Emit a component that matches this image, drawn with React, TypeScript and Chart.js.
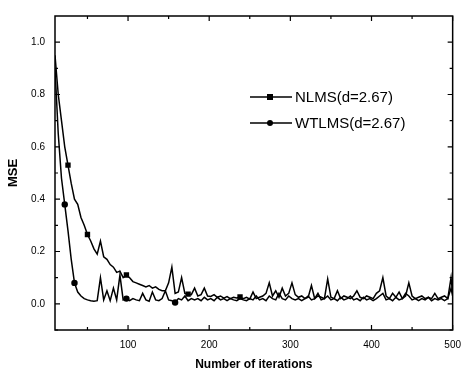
import React, { useEffect, useRef } from "react";
import { Chart, registerables } from "chart.js";

Chart.register(...registerables);

const iterations = [10,14,18,22,26,30,34,38,42,46,50,54,58,62,66,70,74,78,82,86,90,94,98,102,106,110,114,118,122,126,130,134,138,142,146,150,154,158,162,166,170,174,178,182,186,190,194,198,202,206,210,214,218,222,226,230,234,238,242,246,250,254,258,262,266,270,274,278,282,286,290,294,298,302,306,310,314,318,322,326,330,334,338,342,346,350,354,358,362,366,370,374,378,382,386,390,394,398,402,406,410,414,418,422,426,430,434,438,442,446,450,454,458,462,466,470,474,478,482,486,490,494,498,500];

const nlms = [0.95,0.80,0.70,0.60,0.53,0.46,0.40,0.38,0.33,0.30,0.265,0.24,0.21,0.19,0.24,0.18,0.17,0.15,0.14,0.12,0.125,0.10,0.11,0.10,0.085,0.08,0.075,0.07,0.065,0.07,0.06,0.065,0.055,0.05,0.05,0.08,0.14,0.04,0.045,0.10,0.04,0.037,0.035,0.06,0.03,0.035,0.06,0.03,0.028,0.035,0.025,0.03,0.022,0.028,0.02,0.025,0.022,0.026,0.02,0.025,0.018,0.045,0.02,0.025,0.03,0.04,0.08,0.03,0.05,0.025,0.06,0.03,0.04,0.08,0.035,0.025,0.03,0.02,0.025,0.07,0.02,0.03,0.025,0.02,0.095,0.025,0.02,0.05,0.02,0.03,0.025,0.02,0.03,0.05,0.025,0.02,0.03,0.025,0.02,0.04,0.05,0.10,0.03,0.02,0.04,0.025,0.045,0.02,0.03,0.08,0.03,0.02,0.025,0.03,0.02,0.025,0.02,0.04,0.02,0.025,0.03,0.02,0.10,0.04];

const wtlms = [0.90,0.65,0.48,0.38,0.28,0.17,0.08,0.045,0.03,0.02,0.015,0.012,0.01,0.012,0.10,0.015,0.05,0.012,0.06,0.015,0.11,0.015,0.02,0.012,0.02,0.015,0.012,0.04,0.015,0.01,0.045,0.015,0.012,0.02,0.05,0.015,0.012,0.005,0.02,0.015,0.03,0.012,0.02,0.015,0.02,0.012,0.025,0.015,0.02,0.012,0.025,0.015,0.02,0.012,0.02,0.015,0.012,0.02,0.015,0.012,0.02,0.015,0.03,0.015,0.02,0.012,0.03,0.02,0.015,0.04,0.02,0.015,0.03,0.02,0.015,0.02,0.012,0.02,0.03,0.015,0.02,0.04,0.015,0.02,0.03,0.015,0.02,0.012,0.025,0.015,0.02,0.03,0.015,0.02,0.012,0.025,0.015,0.02,0.012,0.02,0.03,0.04,0.015,0.02,0.012,0.025,0.015,0.02,0.04,0.03,0.015,0.02,0.012,0.02,0.015,0.025,0.012,0.02,0.015,0.02,0.012,0.02,0.06,0.03];

const nlmsMarkers = [26, 50, 98, 174, 238];
const wtlmsMarkers = [22, 34, 98, 158];

const seriesNames = ["NLMS(d=2.67)", "WTLMS(d=2.67)"];
const xMajorTicks = [100, 200, 300, 400, 500];
const xMinorTicks = [50, 150, 250, 350, 450];
const yMajorTicks = [0, 0.2, 0.4, 0.6, 0.8, 1.0];
const yMinorTicks = [-0.1, 0.1, 0.3, 0.5, 0.7, 0.9];

const FONT = "'Liberation Sans', Arial, sans-serif";

const framePlugin = {
  id: "frame",
  afterDatasetsDraw(chart: any) {
    const { ctx, chartArea: a, scales } = chart;
    const xs = scales.x, ys = scales.y;
    ctx.save();
    ctx.strokeStyle = "#000";
    ctx.lineWidth = 1.5;
    ctx.strokeRect(a.left, a.top, a.right - a.left, a.bottom - a.top);
    ctx.lineWidth = 1.2;
    const tickX = (v: number, len: number) => {
      const px = xs.getPixelForValue(v);
      if (px < a.left || px > a.right) return;
      ctx.beginPath();
      ctx.moveTo(px, a.bottom); ctx.lineTo(px, a.bottom - len);
      ctx.moveTo(px, a.top); ctx.lineTo(px, a.top + len);
      ctx.stroke();
    };
    const tickY = (v: number, len: number) => {
      const py = ys.getPixelForValue(v);
      if (py < a.top || py > a.bottom) return;
      ctx.beginPath();
      ctx.moveTo(a.left, py); ctx.lineTo(a.left + len, py);
      ctx.moveTo(a.right, py); ctx.lineTo(a.right - len, py);
      ctx.stroke();
    };
    xMajorTicks.forEach((v) => tickX(v, 5));
    xMinorTicks.forEach((v) => tickX(v, 3));
    yMajorTicks.forEach((v) => tickY(v, 5));
    yMinorTicks.forEach((v) => tickY(v, 3));

    // legend
    const items = [
      { name: seriesNames[0], style: "rect", y: 97 },
      { name: seriesNames[1], style: "circle", y: 123 },
    ];
    ctx.lineWidth = 1.4;
    items.forEach((it) => {
      ctx.beginPath();
      ctx.moveTo(250, it.y); ctx.lineTo(292, it.y);
      ctx.stroke();
      ctx.fillStyle = "#000";
      if (it.style === "rect") {
        ctx.fillRect(267, it.y - 3, 6, 6);
      } else {
        ctx.beginPath();
        ctx.arc(270, it.y, 3, 0, Math.PI * 2);
        ctx.fill();
      }
      ctx.font = `15px ${FONT}`;
      ctx.textBaseline = "middle";
      ctx.textAlign = "left";
      ctx.fillText(it.name, 295, it.y + 1);
    });
    ctx.restore();
  },
};

export default function App() {
  const ref = useRef<HTMLCanvasElement | null>(null);
  useEffect(() => {
    document.body.style.margin = "0";
    const canvas = ref.current!;
    const mk = (vals: number[]) => iterations.map((x, i) => ({ x, y: vals[i] }));
    const chart = new Chart(canvas, {
      type: "line",
      data: {
        datasets: [
          {
            label: seriesNames[0],
            data: mk(nlms),
            borderColor: "#000",
            backgroundColor: "#000",
            borderWidth: 1.5,
            pointStyle: "rect",
            pointRadius: (c: any) => (nlmsMarkers.includes(iterations[c.dataIndex]) ? 3.8 : 0),
            pointBorderWidth: 0,
            tension: 0,
          },
          {
            label: seriesNames[1],
            data: mk(wtlms),
            borderColor: "#000",
            backgroundColor: "#000",
            borderWidth: 1.5,
            pointStyle: "circle",
            pointRadius: (c: any) => (wtlmsMarkers.includes(iterations[c.dataIndex]) ? 3.2 : 0),
            pointBorderWidth: 0,
            tension: 0,
          },
        ],
      },
      options: {
        animation: false,
        responsive: false,
        maintainAspectRatio: false,
        layout: { padding: { left: 0, top: 11, right: 10, bottom: 0 } },
        plugins: { legend: { display: false }, tooltip: { enabled: false } },
        scales: {
          x: {
            type: "linear",
            min: 10,
            max: 500,
            grid: { display: false, drawTicks: false },
            border: { display: false },
            afterBuildTicks: (s: any) => { s.ticks = xMajorTicks.map((v) => ({ value: v })); },
            afterFit: (s: any) => { s.height = 47; },
            ticks: {
              padding: 9,
              color: "#000",
              font: { family: FONT, size: 10 },
              callback: (v: any) => String(v),
            },
            title: {
              display: true,
              text: "Number of iterations",
              color: "#000",
              font: { family: FONT, size: 12, weight: "bold" },
              padding: { top: 0, bottom: 5 },
            },
          },
          y: {
            type: "linear",
            min: -0.1,
            max: 1.1,
            grid: { display: false, drawTicks: false },
            border: { display: false },
            afterBuildTicks: (s: any) => { s.ticks = yMajorTicks.map((v) => ({ value: v })); },
            afterFit: (s: any) => { s.width = 55; },
            ticks: {
              padding: 10,
              color: "#000",
              font: { family: FONT, size: 10 },
              callback: (v: any) => Number(v).toFixed(1),
            },
            title: {
              display: true,
              text: "MSE",
              color: "#000",
              font: { family: FONT, size: 13, weight: "bold" },
              padding: { top: 6, bottom: 0 },
            },
          },
        },
      },
      plugins: [framePlugin],
    } as any);
    return () => chart.destroy();
  }, []);
  return (
    <div style={{ position: "absolute", left: 0, top: 0, width: 470, height: 377, background: "#fff" }}>
      <canvas ref={ref} width={470} height={377} style={{ display: "block", width: 470, height: 377 }} />
    </div>
  );
}
